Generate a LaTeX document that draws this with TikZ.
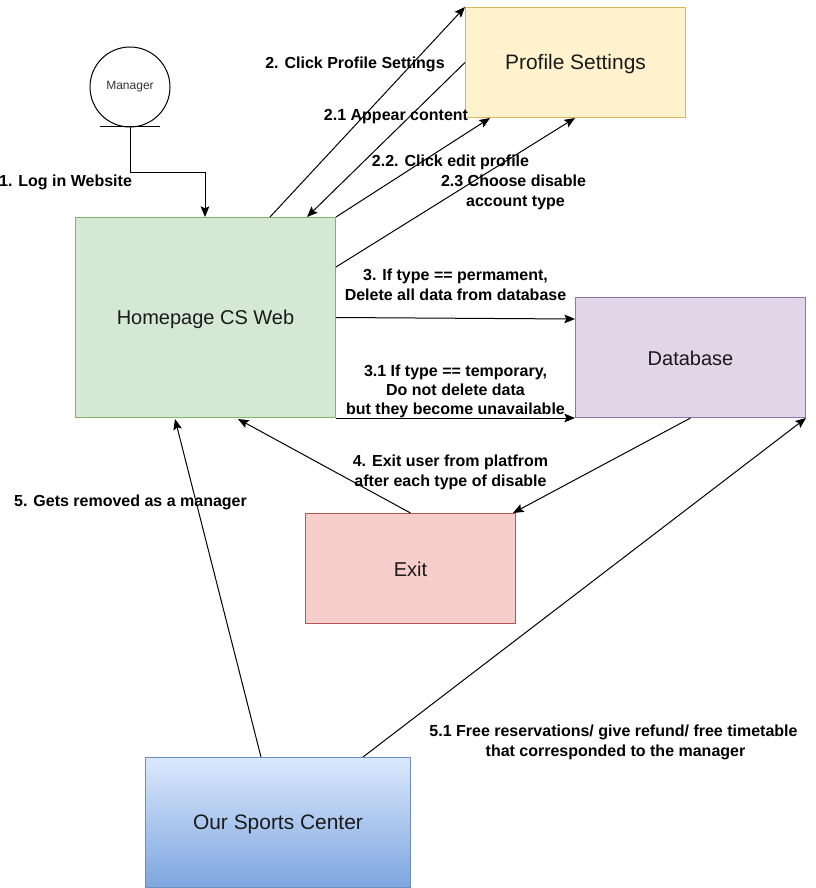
\documentclass[tikz,border=0pt]{standalone}
\usepackage{fontspec}
\setmainfont{Liberation Sans}
\usetikzlibrary{arrows.meta,calc}
\definecolor{txt}{HTML}{1A1A1A}
\definecolor{gfill}{HTML}{D5E8D4}\definecolor{gline}{HTML}{82B366}
\definecolor{yfill}{HTML}{FFF2CC}\definecolor{yline}{HTML}{D6B656}
\definecolor{pfill}{HTML}{E1D5E7}\definecolor{pline}{HTML}{9673A6}
\definecolor{rfill}{HTML}{F8CECC}\definecolor{rline}{HTML}{B85450}
\definecolor{btop}{HTML}{DAE8FC}\definecolor{bbot}{HTML}{7EA6E0}\definecolor{bline}{HTML}{6C8EBF}
\definecolor{mgrtext}{HTML}{333333}
\newcommand{\boxtext}[2][5.2pt]{\raisebox{-#1}[0pt][0pt]{#2}}
\tikzset{
  box/.style={line width=0.75pt,anchor=north west,inner sep=0pt,text=txt,font=\fontsize{15pt}{18pt}\selectfont},
  bigbox/.style={box,font=\fontsize{15.7pt}{18pt}\selectfont},
  conn/.style={draw=black,line width=0.75pt,-{Stealth[length=8pt,width=6.5pt,inset=1.5pt]}},
  lbl/.style={align=center,inner sep=0pt,text=black,font=\bfseries\fontsize{12pt}{15pt}\selectfont},
  tightlbl/.style={align=center,inner sep=0pt,text=black,font=\bfseries\fontsize{12pt}{14.25pt}\selectfont}
}
\begin{document}
\begin{tikzpicture}[x=0.75pt,y=-0.75pt]
\useasboundingbox (0,0) rectangle (815,888);
% boxes
\node[box,fill=gfill,draw=gline,minimum width=195pt,minimum height=150pt] (home) at (75,217) {\boxtext{Homepage CS Web}};
\node[bigbox,fill=yfill,draw=yline,minimum width=165pt,minimum height=82.5pt] (profile) at (465,7) {\boxtext{Profile Settings}};
\node[box,fill=pfill,draw=pline,minimum width=172.5pt,minimum height=90pt] (db) at (575,297) {\boxtext[5.9pt]{Database}};
\node[box,fill=rfill,draw=rline,minimum width=157.5pt,minimum height=82.5pt] (exit) at (305,513) {\boxtext[5.9pt]{Exit}};
\node[bigbox,top color=btop,bottom color=bbot,draw=bline,minimum width=198.75pt,minimum height=97.5pt] (center) at (145,757) {\boxtext{Our Sports Center}};
% manager
\node[circle,draw=black,line width=0.75pt,fill=white,minimum size=60pt,inner sep=0pt,text=mgrtext,font=\fontsize{9pt}{11pt}\selectfont] (mgr) at (130,87) {Manager};
\coordinate (mgrL) at (100,127);
\coordinate (mgrR) at (160,127);
\draw[line width=0.75pt] (mgrL) -- (mgrR);
% connectors
\draw[conn] (mgr.south) -- ++(0,45) -| ($(home.north west)+(130,0)$);
\draw[conn] ($(home.north west)+(195,0)$) -- (profile.north west);
\draw[conn] ($(profile.north west)+(0,55.5)$) -- ($(home.north west)+(232,0)$);
\draw[conn] (home.north east) -- ($(profile.south west)+(25,0)$);
\draw[conn] ($(home.north east)+(0,50)$) -- ($(profile.south west)+(110,0)$);
\draw[conn] (home.east) -- ($(db.north west)+(0,22)$);
\draw[conn] (home.south east) -- (db.south west);
\draw[conn] (db.south) -- ($(exit.north east)+(-3,0)$);
\draw[conn] (exit.north) -- ($(home.south west)+(163,1)$);
\draw[conn] ($(center.north west)+(116,0)$) -- ($(home.south west)+(100,1)$);
\draw[conn] ($(center.north west)+(218,0)$) -- (db.south east);
% labels
\node[lbl] (l1) at (65.5,182) {1. Log in Website};
\node[lbl] (l2) at (355,64) {2. Click Profile Settings};
\node[lbl] (l21) at (396,116.5) {2.1 Appear content};
\node[lbl] (l22) at (450.5,162.5) {2.2. Click edit profile};
\node[lbl] (l23) at (513.5,192) {2.3 Choose disable\\\hspace*{3pt}account type};
\node[lbl] (l3) at (455.5,285) {3. If type == permament,\\Delete all data from database};
\node[tightlbl] (l31) at (455.5,391) {3.1 If type == temporary,\\Do not delete data\\but they become unavailable};
\node[lbl] (l4) at (450.5,472) {4. Exit user from platfrom\\after each type of disable};
\node[lbl] (l5) at (130.5,502.5) {5. Gets removed as a manager};
\node[lbl] (l51) at (613.5,742) {5.1 Free reservations/ give refund/ free timetable\\\hspace*{3pt}that corresponded to the manager};
\end{tikzpicture}
\end{document}
